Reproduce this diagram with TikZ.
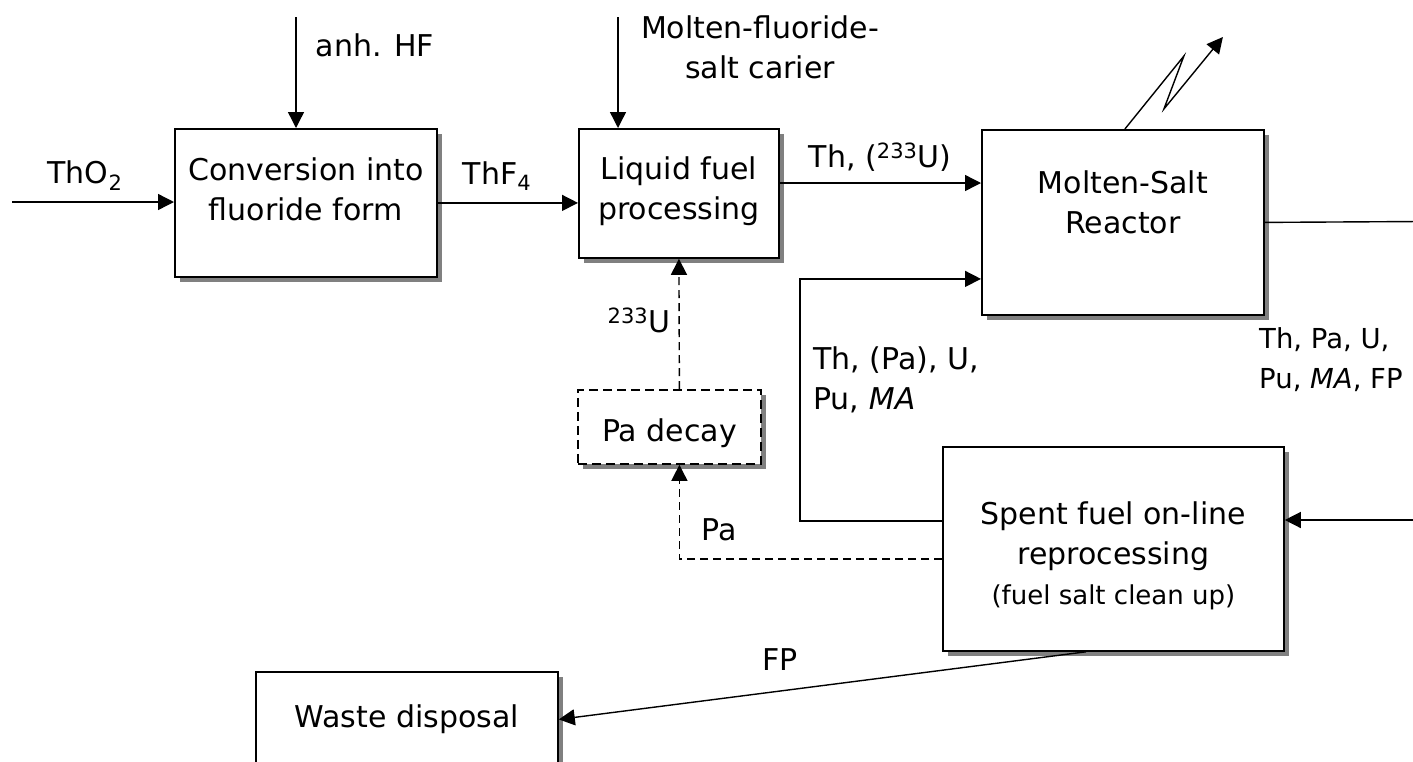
\documentclass[tikz,border=0pt]{standalone}
\usepackage{fontspec}
\setmainfont{DejaVu Sans}
\usetikzlibrary{arrows.meta,shadows}
\begin{document}
\begin{tikzpicture}[x=1pt,y=-1pt,
  every node/.style={font=\fontsize{30}{40}\selectfont, inner sep=0pt},
  box/.style={draw, line width=1.8pt, fill=white,
    drop shadow={shadow xshift=5pt, shadow yshift=-5pt, fill=black!50, opacity=1},
    anchor=north west},
  dbox/.style={box, dash pattern=on 9pt off 5pt},
  txt/.style={align=center},
  lbl/.style={align=left},
  arr/.style={line width=1.4pt, -{Triangle[length=16pt,width=16pt]}},
  darr/.style={arr, dash pattern=on 8pt off 5pt}
]
\useasboundingbox (0,0) rectangle (1413,761);

% boxes
\node[box, minimum width=262pt, minimum height=148pt] (conv) at (174,128) {};
\node[box, minimum width=200pt, minimum height=129pt] (liq) at (578,128) {};
\node[box, minimum width=282pt, minimum height=185pt] (reac) at (981,129) {};
\node[dbox, minimum width=183pt, minimum height=74pt] (pa) at (577,389) {};
\node[box, minimum width=341pt, minimum height=204pt] (spent) at (942,446) {};
\node[box, minimum width=302pt, minimum height=95pt] (waste) at (255,671) {};

% box texts
\node[txt] (convt) at ([yshift=14pt]conv.center) {Conversion into\\fluoride form};
\node[txt] (liqt) at ([yshift=2pt]liq.center) {Liquid fuel\\processing};
\node[txt] (react) at ([yshift=20pt]reac.center) {Molten-Salt\\Reactor};
\node[txt] (pat) at ([yshift=-6pt]pa.center) {Pa decay};
\node[txt] (spentt) at ([yshift=-7pt]spent.center) {Spent fuel on-line\\reprocessing\\{\fontsize{26}{40}\selectfont(fuel salt clean up)}};
\node[txt] (wastet) at (waste.center) {Waste disposal};

% free ends
\coordinate (thoin) at (12,202);
\coordinate (hfin) at (296,17);
\coordinate (mfin) at (618,17);
\coordinate (rout) at (1420,221.5);
\coordinate (rin) at (1420,520);
\coordinate (fbk) at (800,400);

% connectors
\draw[arr] (thoin) -- (thoin -| conv.west);
\draw[arr] (hfin) -- (hfin |- conv.north);
\draw[arr] (conv.east) -- (conv.east -| liq.west);
\draw[arr] (mfin) -- (mfin |- liq.north);
\draw[arr] ([yshift=-55pt]liq.north east) -- ([yshift=-55pt]liq.north east -| reac.west);
\draw[line width=1.4pt] (reac.east) -- (rout);
\draw[arr] (rin) -- (rin -| spent.east);
\draw[arr] ([yshift=28pt]spent.west) -| (fbk) |- ([yshift=-56.5pt]reac.west);
\draw[darr] ([yshift=-10pt]spent.west) -| ([xshift=10pt]pa.south);
\draw[darr] ([xshift=10pt]pa.north) -- (liq.south);
\draw[arr] ([xshift=-27.5pt]spent.south) -- (waste.east);
\draw[arr] ([xshift=2pt]reac.north) -- ++(59,-73) -- ++(-20,53) -- ++(59,-72);

% labels
\node (l1) at (85,176) {ThO\textsubscript{2}};
\node (l2) at (375,45) {anh. HF};
\node (l3) at (497,176) {ThF\textsubscript{4}};
\node[txt] (l4) at (760,47) {Molten-fluoride-\\salt carier};
\node (l5) at (880,157) {Th, (\textsuperscript{233}U)};
\node (l6) at (639,320) {\textsuperscript{233}U};
\node[lbl, anchor=west] (l7) at (813,380) {Th, (Pa), U,\\Pu, \textit{MA}};
\node[lbl, anchor=west, font=\fontsize{27.5}{40}\selectfont] (l8) at (1259,360) {Th, Pa, U,\\Pu, \textit{MA}, FP};
\node (l9) at (719,530) {Pa};
\node (l10) at (780,660) {FP};
\end{tikzpicture}
\end{document}
